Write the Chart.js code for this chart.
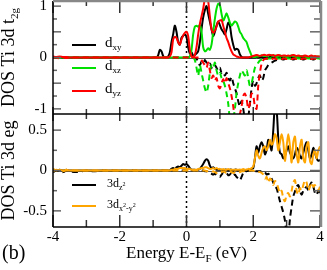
<!DOCTYPE html>
<html>
<head>
<meta charset="utf-8">
<script src="https://cdn.jsdelivr.net/npm/chart.js@4.4.0/dist/chart.umd.min.js"></script>
<style>
  html, body { margin: 0; padding: 0; background: #fff; }
</style>
</head>
<body>
<canvas id="dosChart" width="327" height="270"></canvas>
<script>
// ======================
// Data
// ======================
const energy = [-4, -3.9, -3.8, -3.7, -3.6, -3.5, -3.3, -3, -2.8, -2.5, -2, -1.5,
  -1, -0.95, -0.9, -0.85, -0.8, -0.75, -0.7, -0.65, -0.6, -0.55,
  -0.5, -0.45, -0.4, -0.35, -0.3, -0.25, -0.2, -0.15, -0.1, -0.05,
  0, 0.05, 0.1, 0.15, 0.2, 0.25, 0.3, 0.35, 0.4, 0.45,
  0.5, 0.55, 0.6, 0.65, 0.7, 0.75, 0.8, 0.85, 0.9, 0.95,
  1, 1.05, 1.1, 1.15, 1.2, 1.25, 1.3, 1.35, 1.4, 1.45,
  1.5, 1.55, 1.6, 1.65, 1.7, 1.75, 1.8, 1.85, 1.9, 1.95,
  2, 2.05, 2.1, 2.15, 2.2, 2.25, 2.3, 2.35, 2.4, 2.45,
  2.5, 2.55, 2.6, 2.65, 2.7, 2.75, 2.8, 2.85, 2.9, 2.95,
  3, 3.05, 3.1, 3.15, 3.2, 3.25, 3.3, 3.35, 3.4, 3.45,
  3.5, 3.55, 3.6, 3.65, 3.7, 3.75, 3.8, 3.85, 3.9, 3.95,
  4];

// t2g, spin up (solid) / spin down (dashed)
const dxyUp = [0.01, 0, 0.01, 0, 0, 0, 0, 0, 0, 0, 0, 0,
  0, 0, 0, 0.04, 0.15, 0.12, 0.03, 0, 0, 0.02,
  0.1, 0.3, 0.45, 0.62, 0.5, 0.3, 0.25, 0.38, 0.42, 0.45,
  0.4, 0.2, 0.08, 0.1, 0.03, 0.05, 0.08, 0.12, 0.3, 0.55,
  0.78, 0.92, 1.0, 0.85, 0.7, 0.55, 0.42, 0.5, 0.62, 0.7,
  0.63, 0.55, 0.5, 0.45, 0.55, 0.68, 0.62, 0.4, 0.25, 0.15,
  0.17, 0.15, 0.06, 0.01, 0, 0, 0, 0, 0, 0,
  0, 0, 0.01, 0, 0.01, 0.01, 0, 0.01, 0.01, 0,
  0.01, 0.01, 0, 0.01, 0.01, 0, 0.01, 0.01, 0, 0.01,
  0.01, 0, 0.01, 0.01, 0, 0.01, 0.01, 0, 0.01, 0.01,
  0, 0.01, 0.01, 0, 0.01, 0.01, 0, 0.01, 0.01, 0,
  0.01];
const dxzUp = [0, 0.01, 0, 0, 0.01, 0, 0, 0, 0, 0, 0, 0,
  0, 0, 0, 0, 0, 0, 0, 0, 0, 0,
  0, 0, 0, 0, 0, 0, 0, 0, 0, 0,
  0, 0, 0.02, 0.15, 0.45, 0.6, 0.62, 0.6, 0.63, 0.5,
  0.2, 0.12, 0.14, 0.18, 0.15, 0.25, 0.5, 0.75, 0.95, 1.05,
  1.02, 0.85, 0.72, 0.78, 0.86, 0.78, 0.68, 0.62, 0.66, 0.7,
  0.68, 0.6, 0.5, 0.45, 0.38, 0.34, 0.3, 0.2, 0.12, 0.04,
  0.01, 0.01, 0.02, 0.02, 0.03, 0.04, 0.04, 0.03, 0.03, 0.04,
  0.05, 0.04, 0.03, 0.04, 0.03, 0.03, 0.04, 0.03, 0.02, 0.03,
  0.03, 0.02, 0.03, 0.04, 0.03, 0.02, 0.03, 0.02, 0.02, 0.03,
  0.02, 0.03, 0.02, 0.01, 0.02, 0.03, 0.02, 0.01, 0.02, 0.02,
  0.01];
const dyzUp = [0.02, 0.01, 0.02, 0.01, 0.01, 0, 0, 0, 0, 0, 0, 0,
  0, 0, 0, 0, 0, 0, 0, 0, 0, 0,
  0.02, 0.1, 0.35, 0.4, 0.38, 0.3, 0.25, 0.35, 0.43, 0.48,
  0.5, 0.42, 0.15, 0.02, 0.01, 0.05, 0.2, 0.45, 0.65, 0.8,
  0.95, 1.15, 1.25, 1.1, 0.8, 0.55, 0.48, 0.52, 0.6, 0.7,
  0.72, 0.73, 0.62, 0.5, 0.38, 0.3, 0.2, 0.12, 0.06, 0.04,
  0.02, 0.01, 0, 0, 0, 0, 0, 0, 0.01, 0.02,
  0.03, 0.04, 0.05, 0.04, 0.03, 0.04, 0.05, 0.05, 0.04, 0.05,
  0.05, 0.04, 0.05, 0.03, 0.04, 0.05, 0.04, 0.03, 0.04, 0.04,
  0.03, 0.04, 0.03, 0.04, 0.05, 0.04, 0.03, 0.04, 0.03, 0.02,
  0.03, 0.04, 0.03, 0.02, 0.03, 0.04, 0.02, 0.03, 0.02, 0.02,
  0.02];
const dxyDown = [-0.01, 0, -0.01, 0, 0, 0, 0, 0, 0, 0, 0, 0,
  0, 0, 0, 0, 0, 0, 0, 0, 0, 0,
  0, 0, 0, 0, 0, 0, 0, 0, 0, 0,
  0, 0, 0, 0, 0, -0.02, -0.02, -0.1, -0.15, -0.08,
  -0.12, -0.05, -0.1, -0.15, -0.12, -0.2, -0.22, -0.15, -0.2, -0.25,
  -0.2, -0.3, -0.28, -0.35, -0.3, -0.4, -0.45, -0.38, -0.5, -0.6,
  -0.7, -0.85, -0.95, -0.85, -1.0, -1.2, -1.25, -1.15, -0.9, -0.6,
  -0.45, -0.55, -0.5, -0.4, -0.35, -0.45, -0.4, -0.25, -0.2, -0.15,
  -0.12, -0.1, -0.08, -0.06, -0.05, -0.04, -0.04, -0.03, -0.04, -0.03,
  -0.03, -0.04, -0.03, -0.03, -0.04, -0.03, -0.03, -0.04, -0.03, -0.03,
  -0.04, -0.03, -0.03, -0.04, -0.03, -0.03, -0.04, -0.03, -0.03, -0.04,
  -0.03];
const dxzDown = [0, 0, -0.01, 0, 0, 0, 0, 0, 0, 0, 0, 0,
  0, 0, 0, 0, 0, 0, 0, 0, 0, 0,
  0, 0, 0, 0, 0, 0, 0, 0, 0, 0,
  0, 0, 0, 0, 0, -0.05, -0.2, -0.35, -0.15, -0.3,
  -0.45, -0.6, -0.68, -0.55, -0.3, -0.15, -0.2, -0.1, -0.25, -0.35,
  -0.3, -0.4, -0.45, -0.55, -0.7, -0.9, -1.2, -1.3, -1.2, -1.0,
  -0.7, -0.5, -0.35, -0.25, -0.3, -0.35, -0.25, -0.4, -0.55, -0.5,
  -0.35, -0.2, -0.15, -0.1, -0.06, -0.04, -0.03, -0.02, -0.03, -0.02,
  -0.02, -0.01, -0.02, -0.02, -0.01, -0.02, -0.02, -0.01, -0.02, -0.02,
  -0.01, -0.02, -0.02, -0.01, -0.02, -0.02, -0.01, -0.02, -0.02, -0.01,
  -0.02, -0.02, -0.01, -0.02, -0.02, -0.01, -0.02, -0.02, -0.01, -0.02,
  -0.02];
const dyzDown = [-0.01, 0, -0.02, 0, -0.01, 0, 0, 0, 0, 0, 0, 0,
  0, 0, 0, 0, 0, 0, 0, 0, 0, 0,
  0, 0, 0, 0, 0, 0, 0, 0, 0, 0,
  0, 0, 0, 0, 0, 0, 0, 0, 0, -0.05,
  -0.1, -0.15, -0.2, -0.1, -0.25, -0.4, -0.35, -0.45, -0.4, -0.55,
  -0.6, -0.5, -0.42, -0.5, -0.4, -0.5, -0.6, -0.75, -0.95, -1.2,
  -1.3, -1.2, -1.1, -0.95, -0.75, -0.7, -0.8, -1.0, -0.9, -0.7,
  -0.75, -0.95, -1.0, -0.55, -0.3, -0.12, -0.05, -0.03, -0.02, -0.03,
  -0.02, -0.03, -0.02, -0.02, -0.03, -0.02, -0.02, -0.03, -0.02, -0.02,
  -0.03, -0.02, -0.02, -0.03, -0.02, -0.02, -0.03, -0.02, -0.02, -0.03,
  -0.02, -0.02, -0.03, -0.02, -0.02, -0.03, -0.02, -0.02, -0.03, -0.02,
  -0.02];

// eg, spin up (solid) / spin down (dashed)
const dz2Up = [0.01, 0, 0.01, 0, 0.01, 0, 0, 0, 0, 0, 0, 0,
  0, 0, 0, 0, 0, 0, 0, 0, 0, 0,
  0, 0.02, 0.03, 0.02, 0.04, 0.05, 0.04, 0.06, 0.08, 0.07,
  0.08, 0.06, 0.03, 0.01, 0.01, 0.01, 0, 0.01, 0.02, 0.05,
  0.08, 0.12, 0.14, 0.12, 0.06, 0.03, 0.04, 0.02, 0.01, 0.01,
  0.01, 0.01, 0, 0.01, 0.01, 0, 0.01, 0.01, 0, 0.01,
  0.01, 0, 0.01, 0, 0.01, 0, 0.01, 0, 0.01, 0.02,
  0.03, 0.15, 0.3, 0.22, 0.3, 0.35, 0.3, 0.2, 0.25, 0.38,
  0.32, 0.25, 0.5, 0.8, 0.75, 0.4, 0.22, 0.2, 0.15, 0.18,
  0.25, 0.3, 0.22, 0.18, 0.15, 0.2, 0.28, 0.25, 0.18, 0.15,
  0.22, 0.3, 0.35, 0.25, 0.15, 0.2, 0.28, 0.22, 0.15, 0.12,
  0.13];
const dx2Up = [0.02, 0, 0.01, 0, 0.01, 0, 0, 0, 0, 0, 0, 0,
  0, 0, 0, 0, 0, 0, 0, 0, 0, 0,
  0, 0.01, 0.01, 0.02, 0.02, 0.02, 0.03, 0.03, 0.03, 0.03,
  0.02, 0.02, 0.02, 0.01, 0.01, 0.01, 0.01, 0.02, 0.02, 0.03,
  0.03, 0.04, 0.04, 0.03, 0.02, 0.02, 0.03, 0.02, 0.03, 0.02,
  0.02, 0.01, 0.02, 0.01, 0.01, 0.02, 0.01, 0.01, 0.01, 0.01,
  0.01, 0.01, 0.01, 0.01, 0.02, 0.01, 0.01, 0.02, 0.02, 0.03,
  0.05, 0.15, 0.25, 0.18, 0.15, 0.22, 0.28, 0.3, 0.25, 0.3,
  0.38, 0.32, 0.35, 0.45, 0.4, 0.25, 0.35, 0.45, 0.35, 0.12,
  0.3, 0.45, 0.3, 0.1, 0.35, 0.42, 0.2, 0.1, 0.3, 0.38,
  0.15, 0.1, 0.3, 0.35, 0.12, 0.08, 0.2, 0.25, 0.15, 0.25,
  0.3];
const dz2Down = [-0.02, 0, -0.01, -0.02, 0, -0.01, -0.02, 0, -0.01, 0, 0, 0,
  0, 0, 0, 0, 0, 0, 0, 0, 0, 0,
  0, 0, 0, 0, 0, 0, 0, 0, 0, 0,
  0, 0, 0, 0, 0, 0, 0, 0, 0, 0,
  0, -0.01, -0.01, -0.02, -0.03, -0.04, -0.05, -0.04, -0.06, -0.07,
  -0.08, -0.05, -0.03, -0.04, -0.03, -0.06, -0.05, -0.03, -0.06, -0.05,
  -0.08, -0.1, -0.12, -0.08, -0.03, -0.01, -0.01, 0, 0, 0,
  -0.01, -0.01, -0.01, -0.01, -0.01, -0.01, -0.01, -0.02, -0.05, -0.04,
  -0.06, -0.1, -0.15, -0.2, -0.22, -0.3, -0.38, -0.45, -0.52, -0.62,
  -0.78, -0.8, -0.6, -0.45, -0.32, -0.26, -0.2, -0.18, -0.25, -0.3,
  -0.25, -0.22, -0.2, -0.25, -0.18, -0.15, -0.2, -0.28, -0.3, -0.25,
  -0.28];
const dx2Down = [-0.01, 0.01, 0, -0.01, 0, 0, 0, 0, 0, 0, 0, 0,
  0, 0, 0, 0, 0, 0, 0, 0, 0, 0,
  0, 0, 0, 0, 0, 0, 0, 0, 0, 0,
  0, 0, 0, 0, 0, 0, 0, 0, 0, 0,
  0, 0, -0.01, -0.01, -0.02, -0.02, -0.01, -0.02, -0.03, -0.02,
  -0.03, -0.02, -0.01, -0.02, -0.03, -0.02, -0.01, -0.02, -0.03, -0.02,
  -0.02, -0.03, -0.02, -0.01, -0.01, 0, 0, 0, 0, 0,
  0, -0.01, -0.02, -0.02, -0.02, -0.03, -0.05, -0.1, -0.08, -0.15,
  -0.1, -0.12, -0.18, -0.13, -0.15, -0.22, -0.28, -0.25, -0.35, -0.38,
  -0.3, -0.28, -0.32, -0.25, -0.15, -0.12, -0.25, -0.3, -0.22, -0.25,
  -0.18, -0.12, -0.15, -0.25, -0.2, -0.15, -0.2, -0.18, -0.22, -0.25,
  -0.2];

// tick labels
const xTicks = [-4, -2, 0, 2, 4];
const xMinorTicks = [-3, -1, 1, 3];
const t2gTicks = [-1, -0.5, 0, 0.5, 1];
const t2gMinorTicks = [-0.75, -0.25, 0.25, 0.75];
const egTicks = [-0.5, 0, 0.5];
const egMinorTicks = [-0.25, 0.25];

// ======================
// Styles
// ======================
const SERIF = "'Liberation Serif', 'Times New Roman', serif";
const BLACK = '#000000';
const GREEN = '#00e000';
const RED = '#ff0000';
const ORANGE = '#ffa500';

const pts = vals => energy.map((e, i) => ({ x: e, y: vals[i] }));

function series(vals, color, axis, dashed, order) {
  return {
    data: pts(vals),
    yAxisID: axis,
    borderColor: color,
    borderWidth: 2,
    borderDash: dashed ? [6, 4] : [],
    pointRadius: 0,
    tension: 0.3,
    fill: false,
    order: order
  };
}

// draw text made of pieces [text, size, dy]
function drawParts(ctx, x, y, parts) {
  let cx = x;
  parts.forEach(p => {
    ctx.font = p[1] + 'px ' + SERIF;
    ctx.fillText(p[0], cx, y + p[2]);
    cx += ctx.measureText(p[0]).width;
  });
  return cx - x;
}
function partsWidth(ctx, parts) {
  let w = 0;
  parts.forEach(p => { ctx.font = p[1] + 'px ' + SERIF; w += ctx.measureText(p[0]).width; });
  return w;
}

// ======================
// Plugins
// ======================
// clip each curve to its own panel
const panelClip = {
  id: 'panelClip',
  beforeDatasetDraw(chart, args) {
    const ds = chart.data.datasets[args.index];
    const ys = chart.scales[ds.yAxisID];
    const a = chart.chartArea;
    chart.ctx.save();
    chart.ctx.beginPath();
    chart.ctx.rect(a.left, ys.top, a.right - a.left, ys.bottom - ys.top);
    chart.ctx.clip();
  },
  afterDatasetDraw(chart) {
    chart.ctx.restore();
  }
};

const decorations = {
  id: 'decorations',
  beforeDatasetsDraw(chart) {
    const { ctx, chartArea: a, scales } = chart;
    ctx.save();
    // zero lines
    ctx.strokeStyle = '#555';
    ctx.lineWidth = 1;
    [scales.yT, scales.yE].forEach(s => {
      const y = Math.round(s.getPixelForValue(0)) + 0.5;
      ctx.beginPath(); ctx.moveTo(a.left, y); ctx.lineTo(a.right, y); ctx.stroke();
    });
    // Fermi level
    const xf = scales.x.getPixelForValue(0);
    ctx.setLineDash([2, 3]);
    ctx.strokeStyle = '#000';
    ctx.lineWidth = 1.5;
    ctx.beginPath(); ctx.moveTo(xf, a.top); ctx.lineTo(xf, a.bottom); ctx.stroke();
    ctx.restore();
  },
  afterDatasetsDraw(chart) {
    const { ctx, chartArea: a, scales } = chart;
    const x = scales.x, yT = scales.yT, yE = scales.yE;
    ctx.save();
    ctx.strokeStyle = '#333';
    ctx.lineWidth = 1.5;
    const line = (x1, y1, x2, y2) => { ctx.beginPath(); ctx.moveTo(x1, y1); ctx.lineTo(x2, y2); ctx.stroke(); };

    // x ticks: bottom, top, divider
    const mid = yT.bottom;
    xTicks.forEach(v => {
      const px = x.getPixelForValue(v);
      line(px, a.bottom, px, a.bottom - 12);
      line(px, a.top, px, a.top + 12);
      line(px, mid, px, mid - 7);
      line(px, mid, px, mid + 7);
    });
    xMinorTicks.forEach(v => {
      const px = x.getPixelForValue(v);
      line(px, a.bottom, px, a.bottom - 7);
      line(px, a.top, px, a.top + 5);
      line(px, mid, px, mid - 5);
      line(px, mid, px, mid + 5);
    });
    // y ticks, left and right
    ctx.strokeStyle = '#666';
    [[yT, t2gTicks, t2gMinorTicks], [yE, egTicks, egMinorTicks]].forEach(([s, maj, min]) => {
      maj.forEach(v => {
        const py = s.getPixelForValue(v);
        line(a.left, py, a.left + 8, py);
        line(a.right, py, a.right - 10, py);
      });
      min.forEach(v => {
        const py = s.getPixelForValue(v);
        line(a.left, py, a.left + 4, py);
        line(a.right, py, a.right - 6, py);
      });
    });

    // frame
    ctx.strokeStyle = '#000';
    ctx.lineWidth = 1.5;
    line(a.left, a.top, a.left, a.bottom);
    line(a.left, a.bottom, a.right, a.bottom);
    line(a.left, mid, a.right, mid);
    ctx.strokeStyle = '#888';
    ctx.lineWidth = 2.5;
    line(a.left, a.top, a.right + 1, a.top);
    line(a.right + 1, a.top, a.right + 1, a.bottom);
    ctx.restore();
  },
  afterDraw(chart) {
    const { ctx, chartArea: a, scales } = chart;
    const yT = scales.yT, yE = scales.yE;
    ctx.save();
    ctx.fillStyle = '#000';
    ctx.textBaseline = 'alphabetic';
    ctx.textAlign = 'left';

    // legends
    const lx1 = a.left + 19, lx2 = a.left + 43, tx = a.left + 52;
    const topLegend = [
      [BLACK, [['d', 15, 0], ['xy', 9, 3]]],
      [GREEN, [['d', 15, 0], ['xz', 9, 3]]],
      [RED, [['d', 15, 0], ['yz', 9, 3]]]
    ];
    topLegend.forEach((item, i) => {
      const y = yT.top + 44 + i * 23;
      ctx.strokeStyle = item[0]; ctx.lineWidth = 2;
      ctx.beginPath(); ctx.moveTo(lx1, y); ctx.lineTo(lx2, y); ctx.stroke();
      drawParts(ctx, tx, y + 2, item[1]);
    });
    const egLegend = [
      [BLACK, [['3d', 12, 0], ['z', 8, 3], ['2', 6, -1]]],
      [ORANGE, [['3d', 12, 0], ['x', 8, 3], ['2', 6, -1], ['-y', 8, 3], ['2', 6, -1]]]
    ];
    egLegend.forEach((item, i) => {
      const y = yE.top + 71 + i * 21;
      ctx.strokeStyle = item[0]; ctx.lineWidth = 2;
      ctx.beginPath(); ctx.moveTo(lx1, y); ctx.lineTo(lx2, y); ctx.stroke();
      drawParts(ctx, tx + 2, y + 2, item[1]);
    });

    // axis titles
    const titleT = [['DOS Ti 3d t', 18, 0], ['2g', 11, 4]];
    const titleE = [['DOS Ti 3d eg', 18, 0]];
    [[titleT, (yT.top + yT.bottom) / 2], [titleE, (yE.top + yE.bottom) / 2]].forEach(([parts, cy]) => {
      const w = partsWidth(ctx, parts);
      ctx.save();
      ctx.translate(14, cy);
      ctx.rotate(-Math.PI / 2);
      drawParts(ctx, -w / 2, 0, parts);
      ctx.restore();
    });
    const titleX = [['Energy E-E', 17, 0], ['F', 11, 4], [' (eV)', 17, 0]];
    const wx = partsWidth(ctx, titleX);
    drawParts(ctx, (a.left + a.right) / 2 - wx / 2, 258, titleX);

    ctx.font = '20px ' + SERIF;
    ctx.fillText('(b)', 2, 259);
    ctx.restore();
  }
};

// ======================
// Chart
// ======================
const tickFont = { family: SERIF, size: 15 };
const yAxis = (lo, hi, tickVals) => ({
  type: 'linear', position: 'left', stack: 'dos', stackWeight: 1,
  min: lo, max: hi,
  grid: { display: false, drawTicks: false }, border: { display: false },
  afterBuildTicks: s => { s.ticks = tickVals.map(v => ({ value: v })); },
  afterFit: s => { s.width = 53; s.paddingTop = 0; s.paddingBottom = 0; },
  ticks: { padding: 6, color: '#000', font: tickFont, callback: v => String(v) }
});

const dosChart = new Chart(document.getElementById('dosChart'), {
  type: 'line',
  data: {
    datasets: [
      series(dyzUp, RED, 'yT', false, 1),
      series(dyzDown, RED, 'yT', true, 2),
      series(dxzUp, GREEN, 'yT', false, 4),
      series(dxzDown, GREEN, 'yT', true, 3),
      series(dxyUp, BLACK, 'yT', false, 5),
      series(dxyDown, BLACK, 'yT', true, 6),
      series(dx2Up, ORANGE, 'yE', false, 1),
      series(dx2Down, ORANGE, 'yE', true, 2),
      series(dz2Up, BLACK, 'yE', false, 3),
      series(dz2Down, BLACK, 'yE', true, 4)
    ]
  },
  options: {
    responsive: false,
    animation: false,
    layout: { padding: { top: 1, right: 7, left: 0, bottom: 0 } },
    plugins: { legend: { display: false }, tooltip: { enabled: false } },
    scales: {
      x: {
        type: 'linear', min: -4, max: 4,
        grid: { display: false, drawTicks: false }, border: { display: false },
        afterBuildTicks: s => { s.ticks = xTicks.map(v => ({ value: v })); },
        afterFit: s => { s.height = 43; s.paddingLeft = 0; s.paddingRight = 0; },
        ticks: { padding: 1, color: '#000', font: tickFont, maxRotation: 0, callback: v => String(v) }
      },
      // bottom panel first, top panel second: the later axis is stacked on top
      yE: yAxis(-0.7, 0.7, egTicks),
      yT: yAxis(-1.1, 1.1, t2gTicks)
    }
  },
  plugins: [panelClip, decorations]
});
</script>
</body>
</html>
